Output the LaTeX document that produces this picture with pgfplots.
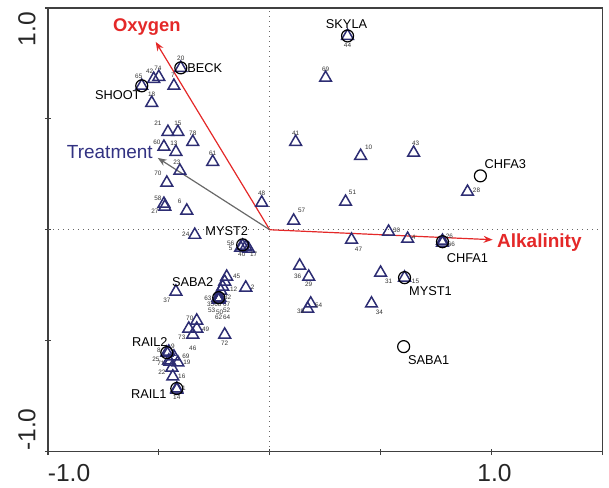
\documentclass[border=0pt]{standalone}
\usepackage{fontspec}
\setmainfont{Liberation Sans}
\usepackage{pgfplots}
\pgfplotsset{compat=1.18}
\usepackage{pgfplotstable}
\usetikzlibrary{arrows.meta}

\definecolor{navy}{RGB}{45,45,115}
\definecolor{treat}{RGB}{50,50,130}
\definecolor{envred}{RGB}{228,40,40}
\definecolor{arrowgray}{RGB}{105,105,105}

% species scores (triangles); dx, dy = label offset in pt
\pgfplotstableread{
x y dx dy lab
-0.401 0.730 0 5 20
-0.523 0.680 -2 4 42
-0.500 0.689 -0.5 4.5 74
-0.577 0.649 -1.5 5 65
-0.432 0.649 -0.5 5.5 7
-0.532 0.572 0 4.5 18
-0.459 0.441 -5 4.5 21
-0.414 0.441 0 4.5 15
-0.347 0.396 0 4.5 78
-0.477 0.374 -3.5 2.5 60
-0.423 0.351 -1 4.5 13
-0.257 0.306 0 4.5 61
-0.405 0.266 -1.5 4 23
-0.464 0.212 -4.5 4.5 70
-0.036 0.122 0 4.5 48
-0.477 0.117 -3 3 58
-0.473 0.104 -5 -2.5 27
-0.374 0.086 -3.5 4.5 6
-0.338 -0.023 -4.5 0.5 24
-0.122 -0.072 -6 1 56
-0.131 -0.081 -5 -0.5 5
-0.108 -0.077 -2 -3.5 40
-0.095 -0.086 2.5 -2.5 17
-0.194 -0.212 5 0 45
-0.203 -0.234 1 -11.5 67
-0.212 -0.257 5.5 -1.5 12
-0.221 -0.275 3 -10 52
-0.230 -0.306 4.5 0 32
-0.234 -0.306 -5 -0.5 63
-0.230 -0.311 -4 -3 35
-0.225 -0.306 -1 -3.5 68
-0.230 -0.315 -3.5 -5.5 53
-0.230 -0.315 0.5 -6.5 50
-0.230 -0.315 0 -9 62
-0.230 -0.315 4 -9 64
-0.108 -0.261 3.5 0 2
-0.423 -0.279 -4.5 -4.5 37
-0.329 -0.410 -3.5 1 70
-0.329 -0.446 4.5 -0.5 49
-0.365 -0.446 -3.5 -4.5 73
-0.347 -0.473 0 -7 46
-0.203 -0.473 0 -4.5 72
-0.464 -0.554 -4 1 8
-0.455 -0.550 2 2.5 9
-0.432 -0.572 6 0 69
-0.414 -0.599 4.5 0 19
-0.450 -0.595 -4.5 -1 71
-0.455 -0.590 -6.5 0.5 25
-0.441 -0.622 -5 -2.5 22
-0.437 -0.662 4.5 0 16
-0.419 -0.716 3.5 0 1
-0.419 -0.721 0 -4 14
0.351 0.874 0 -4.5 44
0.252 0.685 0 4.5 69
0.117 0.396 0 4.5 41
0.410 0.333 4 4.5 10
0.649 0.347 1 5 43
0.892 0.171 4.5 1 28
0.342 0.126 3.5 4.5 51
0.108 0.041 4 5 57
0.536 -0.009 4 0.5 30
0.622 -0.041 3 1 4
0.369 -0.045 3.5 -5 47
0.779 -0.050 3.5 2.5 26
0.779 -0.059 4.5 -0.5 66
0.135 -0.162 -1 -5.5 36
0.176 -0.212 0 -4 29
0.500 -0.194 4 -4.5 31
0.608 -0.216 5.5 -2 15
0.185 -0.333 4 -1 54
0.171 -0.356 -3.5 -1.5 39
0.459 -0.333 4 -4.5 34
}\species

% site scores (circles)
\pgfplotstableread{
x y dx dy lab
-0.401 0.730 12 0 BECK
-0.577 0.649 -12 -4.5 SHOOT
0.351 0.874 -0.5 6 SKYLA
0.950 0.243 12.5 6 CHFA3
0.779 -0.054 12.5 -8 CHFA1
-0.122 -0.068 -8 7 MYST2
0.608 -0.216 13 -6.5 MYST1
0.604 -0.527 12.5 -6.5 SABA1
-0.230 -0.306 -13 8 SABA2
-0.464 -0.554 -8.5 5.5 RAIL2
-0.419 -0.716 -14 -3 RAIL1
}\sites

\begin{document}
\begin{tikzpicture}
\begin{axis}[
    scale only axis,
    width=277.5pt, height=222pt,
    xmin=-1, xmax=1.5, ymin=-1, ymax=1,
    xtick={-1,-0.5,0,0.5,1,1.5}, ytick={-1,-0.5,0,0.5,1},
    xticklabels={}, yticklabels={},
    tick pos=left, tick align=center,
    major tick length=3pt,
    tick style={black!75, line width=0.6pt},
    axis line style={black!75, line width=0.75pt},
    clip=false,
  ]
% zero lines
\addplot[black!60, dotted, line width=0.5pt] coordinates {(0,-1) (0,1)};
\addplot[black!60, dotted, line width=0.5pt] coordinates {(-1,0) (1.5,0)};

% environmental vectors
\addplot[envred, line width=0.6pt, -{Stealth[length=4.5pt,width=3.5pt]}] coordinates {(0,0) (-0.514,0.847)};
\addplot[arrowgray, line width=0.6pt, -{Stealth[length=4.5pt,width=3.5pt]}] coordinates {(0,0) (-0.505,0.324)};
\addplot[envred, line width=0.6pt, -{Stealth[length=4.5pt,width=3.5pt]}] coordinates {(0,0) (1.005,-0.045)};

% species
\addplot[only marks, mark=triangle, mark size=3.4pt, navy, line width=0.75pt,
    nodes near coords, point meta=explicit symbolic,
    visualization depends on={\thisrow{dx} \as \dx},
    visualization depends on={\thisrow{dy} \as \dy},
    every node near coord/.style={anchor=center, inner sep=0pt,
        font=\fontsize{3.2}{3.2}\selectfont, text=black!80,
        xshift=\dx pt, yshift=\dy pt}]
    table[x=x, y=y, meta=lab] {\species};

% sites
\addplot[only marks, mark=o, mark size=3pt, black, line width=0.6pt,
    nodes near coords, point meta=explicit symbolic,
    visualization depends on={\thisrow{dx} \as \dx},
    visualization depends on={\thisrow{dy} \as \dy},
    every node near coord/.style={anchor=center, inner sep=0pt,
        font=\fontsize{6.4}{7}\selectfont, text=black,
        xshift=\dx pt, yshift=\dy pt}]
    table[x=x, y=y, meta=lab] {\sites};

% vector labels
\node[font=\fontsize{9.2}{10}\selectfont\bfseries, text=envred] at (axis cs:-0.554,0.914) {Oxygen};
\node[font=\fontsize{9.5}{10}\selectfont, text=treat] at (axis cs:-0.721,0.351) {Treatment};
\node[font=\fontsize{9.5}{10}\selectfont\bfseries, text=envred] at (axis cs:1.216,-0.059) {Alkalinity};

% tick labels
\node[font=\fontsize{12.3}{14}\selectfont, text=black!85] at (axis cs:-0.905,-1.095) {-1.0};
\node[font=\fontsize{12.3}{14}\selectfont, text=black!85] at (axis cs:1.014,-1.095) {1.0};
\node[rotate=90, font=\fontsize{12.3}{14}\selectfont, text=black!85] at (axis cs:-1.095,0.905) {1.0};
\node[rotate=90, font=\fontsize{12.3}{14}\selectfont, text=black!85] at (axis cs:-1.095,-0.901) {-1.0};
\end{axis}
\path (current axis.south west) ++(-24pt,-17.5pt) coordinate (bbsw);
\path (current axis.north east) ++(3pt,4pt) coordinate (bbne);
\useasboundingbox (bbsw) rectangle (bbne);
\end{tikzpicture}
\end{document}
